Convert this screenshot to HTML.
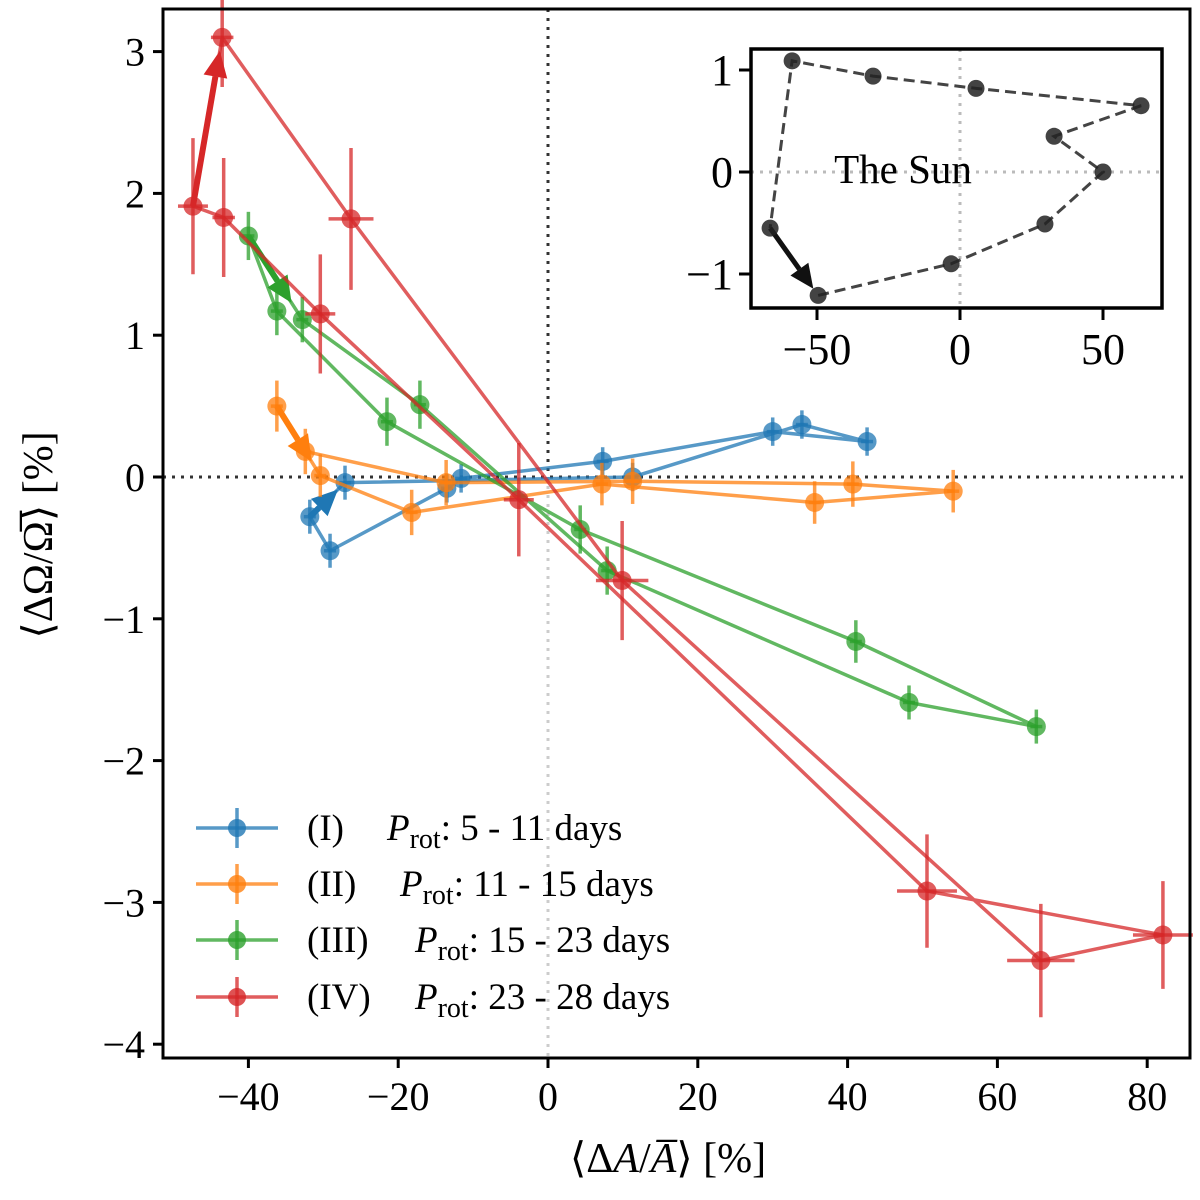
<!DOCTYPE html>
<html><head><meta charset="utf-8"><style>
html,body{margin:0;padding:0;background:#fff;}
svg text{font-family:"Liberation Serif",serif;fill:#000;}
</style></head><body>
<svg id="chart" width="1200" height="1195" xmlns="http://www.w3.org/2000/svg"></svg>
<script>
// ---- main chart data ----
const xTicks = [-40,-20,0,20,40,60,80];
const yTicks = [3,2,1,0,-1,-2,-3,-4];
const seriesNames = ["(I)","(II)","(III)","(IV)"];
const seriesRanges = ["5 - 11 days","11 - 15 days","15 - 23 days","23 - 28 days"];
// series I (blue) in path order (cyclic)
const s1x = [-31.8,-27.1,11.3,33.9,42.6,30.0,7.3,-11.6,-13.5,-29.1];
const s1y = [-0.28,-0.04,0.00,0.37,0.25,0.32,0.11,-0.01,-0.08,-0.52];
const s1xe = [0.8,0.8,0.8,0.8,0.8,0.8,0.8,0.8,0.8,0.8];
const s1ye = [0.12,0.12,0.1,0.1,0.1,0.1,0.1,0.1,0.1,0.12];
// series II (orange)
const s2x = [-36.2,-30.4,-18.2,7.2,35.6,54.1,40.7,11.3,-13.6,-32.4];
const s2y = [0.50,0.01,-0.25,-0.05,-0.18,-0.10,-0.05,-0.03,-0.04,0.18];
const s2xe = [0.8,0.8,0.8,0.8,0.8,0.8,0.8,0.8,0.8,0.8];
const s2ye = [0.18,0.15,0.16,0.15,0.15,0.15,0.16,0.16,0.16,0.16];
// series III (green)
const s3x = [-40.0,-32.8,-17.1,7.9,48.2,65.2,41.1,4.3,-21.5,-36.2];
const s3y = [1.70,1.11,0.51,-0.66,-1.59,-1.76,-1.16,-0.37,0.39,1.17];
const s3xe = [0.8,0.8,0.8,0.8,0.8,0.8,0.8,0.8,0.8,0.8];
const s3ye = [0.17,0.16,0.17,0.17,0.12,0.12,0.15,0.17,0.17,0.17];
// series IV (red)
const s4x = [-47.4,-43.5,-26.3,9.9,65.8,82.1,50.6,-3.9,-30.4,-43.3];
const s4y = [1.91,3.10,1.82,-0.73,-3.41,-3.23,-2.92,-0.16,1.15,1.83];
const s4xe = [2.0,1.5,3.0,3.5,4.5,4.0,4.0,2.0,2.0,1.5];
const s4ye = [0.48,0.35,0.50,0.42,0.40,0.38,0.40,0.40,0.42,0.42];
// ---- inset (Sun) data ----
const sunX = [-66.4,-49.6,-3.1,29.7,50.0,32.9,63.3,5.6,-30.4,-58.7];
const sunY = [-0.55,-1.21,-0.90,-0.51,0.00,0.35,0.65,0.82,0.94,1.09];
const insetXTicks = [-50,0,50];
const insetYTicks = [1,0,-1];

const colors = ["#1f77b4","#ff7f0e","#2ca02c","#d62728"];
const NS = "http://www.w3.org/2000/svg";
const svg = document.getElementById('chart');
function mk(tag, attrs, parent){
  const e = document.createElementNS(NS, tag);
  for (const k in attrs) e.setAttribute(k, attrs[k]);
  (parent||svg).appendChild(e);
  return e;
}
const L=163, R=1190, T=9, B=1058;
const X = v => 548 + v*7.49;
const Y = v => 477 - v*141.8;

const grid = mk('g',{});


mk('line',{x1:L,x2:R,y1:Y(0),y2:Y(0),stroke:'#333',"stroke-width":3,"stroke-dasharray":"3 6"},grid);
mk('line',{x1:X(0),x2:X(0),y1:T,y2:Y(0),stroke:'#333',"stroke-width":3,"stroke-dasharray":"3 6"},grid);
mk('line',{x1:X(0),x2:X(0),y1:Y(0),y2:B,stroke:'#ccc',"stroke-width":3,"stroke-dasharray":"3 6"},grid);

const sx=[s1x,s2x,s3x,s4x], sy=[s1y,s2y,s3y,s4y], sxe=[s1xe,s2xe,s3xe,s4xe], sye=[s1ye,s2ye,s3ye,s4ye];
function arrow(g, x1,y1,x2,y2,color,w,hl,hw){
  const dx=x2-x1, dy=y2-y1, len=Math.hypot(dx,dy), ux=dx/len, uy=dy/len;
  const bx=x2-ux*hl, by=y2-uy*hl;
  mk('line',{x1:x1,y1:y1,x2:bx,y2:by,stroke:color,"stroke-width":w},g);
  mk('polygon',{points:`${x2},${y2} ${bx-uy*hw},${by+ux*hw} ${bx+uy*hw},${by-ux*hw}`,fill:color},g);
}
for(let s=0;s<4;s++){
  const g = mk('g',{});
  
  
  const c=colors[s];
  const pts = sx[s].map((v,i)=>X(v)+','+Y(sy[s][i]));
  mk('polygon',{points:pts.join(' '),fill:'none',stroke:c,"stroke-width":3.5,"stroke-opacity":0.75,"stroke-linejoin":"round"},g);
  for(let i=0;i<sx[s].length;i++){
    const px=X(sx[s][i]), py=Y(sy[s][i]);
    mk('line',{x1:X(sx[s][i]-sxe[s][i]),x2:X(sx[s][i]+sxe[s][i]),y1:py,y2:py,stroke:c,"stroke-width":3.5,"stroke-opacity":0.75},g);
    mk('line',{x1:px,x2:px,y1:Y(sy[s][i]-sye[s][i]),y2:Y(sy[s][i]+sye[s][i]),stroke:c,"stroke-width":3.5,"stroke-opacity":0.75},g);
    const m=mk('circle',{cx:px,cy:py,r:9.5,fill:c,"fill-opacity":0.75},g);
    
    
  }
  const x1=X(sx[s][0]), y1=Y(sy[s][0]), x2=X(sx[s][1]), y2=Y(sy[s][1]);
  const f = s===3?0.92:0.8;
  arrow(g,x1,y1,x1+(x2-x1)*f,y1+(y2-y1)*f,c,6,26,12);
}
const fr=mk('rect',{x:L,y:T,width:R-L,height:B-T,fill:'none',stroke:'#000',"stroke-width":3});


xTicks.forEach(v=>{
  mk('line',{x1:X(v),x2:X(v),y1:B,y2:B+10,stroke:'#000',"stroke-width":3});
  const t=mk('text',{x:X(v),y:B+52,"font-size":40,"text-anchor":"middle"});
  t.textContent = v<0?'\u2212'+(-v):String(v);
  
  
});
yTicks.forEach(v=>{
  mk('line',{x1:L-10,x2:L,y1:Y(v),y2:Y(v),stroke:'#000',"stroke-width":3});
  const t=mk('text',{x:L-18,y:Y(v)+14,"font-size":40,"text-anchor":"end"});
  t.textContent = v<0?'\u2212'+(-v):String(v);
  
  
});
const xt=mk('text',{x:668,y:1172,"font-size":42,"text-anchor":"middle"});
xt.innerHTML='\u27E8\u0394<tspan font-style="italic">A</tspan>/<tspan font-style="italic">A\u0305</tspan>\u27E9 [%]';


const yt=mk('text',{x:0,y:0,"font-size":42,"text-anchor":"middle",transform:'translate(52,535) rotate(-90)'});
yt.textContent='\u27E8\u0394\u03A9/\u03A9\u0305\u27E9 [%]';


const lg=mk('g',{});


const legY=[828,884,940,997];
const legLabX=[387,400,415,415];
for(let s=0;s<4;s++){
  const e=mk('g',{},lg);
  
  
  const c=colors[s], y=legY[s];
  mk('line',{x1:196,x2:278,y1:y,y2:y,stroke:c,"stroke-width":3.5,"stroke-opacity":0.75},e);
  mk('line',{x1:237,x2:237,y1:y-20,y2:y+20,stroke:c,"stroke-width":3.5,"stroke-opacity":0.75},e);
  mk('circle',{cx:237,cy:y,r:9,fill:c,"fill-opacity":0.8},e);
  const t1=mk('text',{x:307,y:y+12,"font-size":37},e); t1.textContent=seriesNames[s];
  const t2=mk('text',{x:legLabX[s],y:y+12,"font-size":37},e);
  t2.innerHTML='<tspan font-style="italic">P</tspan><tspan font-size="28" dy="8">rot</tspan><tspan dy="-8">: '+seriesRanges[s]+'</tspan>';
}
const iL=751,iR=1162,iT=49,iB=308;
const IX=v=>960+v*2.86, IY=v=>172-v*102;
const ig=mk('g',{});


mk('rect',{x:iL,y:iT,width:iR-iL,height:iB-iT,fill:'#fff',stroke:'none'},ig);
mk('line',{x1:iL,x2:iR,y1:IY(0),y2:IY(0),stroke:'#bbb',"stroke-width":3,"stroke-dasharray":"3 6"},ig);
mk('line',{x1:IX(0),x2:IX(0),y1:iT,y2:iB,stroke:'#bbb',"stroke-width":3,"stroke-dasharray":"3 6"},ig);
const sun=mk('text',{x:903,y:183,"font-size":41,"text-anchor":"middle"},ig);
sun.textContent='The Sun';


const sp=sunX.slice(1).map((v,i)=>IX(v)+','+IY(sunY[i+1]));
sp.push(IX(sunX[0])+','+IY(sunY[0]));
mk('polyline',{points:sp.join(' '),fill:'none',stroke:'#444',"stroke-width":3,"stroke-dasharray":"11 6"},ig);
arrow(ig,IX(sunX[0]),IY(sunY[0]),IX(sunX[0])+(IX(sunX[1])-IX(sunX[0]))*0.9,IY(sunY[0])+(IY(sunY[1])-IY(sunY[0]))*0.9,'#111',5,24,11);
for(let i=0;i<sunX.length;i++){
  const m=mk('circle',{cx:IX(sunX[i]),cy:IY(sunY[i]),r:8.5,fill:'#222',"fill-opacity":0.85},ig);
  
  
}
mk('rect',{x:iL,y:iT,width:iR-iL,height:iB-iT,fill:'none',stroke:'#000',"stroke-width":3.5},ig);
insetXTicks.forEach(v=>{
  mk('line',{x1:IX(v),x2:IX(v),y1:iB,y2:iB+12,stroke:'#000',"stroke-width":3},ig);
  const t=mk('text',{x:IX(v),y:iB+56,"font-size":44,"text-anchor":"middle"},ig);
  t.textContent=v<0?'\u2212'+(-v):String(v);
});
insetYTicks.forEach(v=>{
  mk('line',{x1:iL-12,x2:iL,y1:IY(v),y2:IY(v),stroke:'#000',"stroke-width":3},ig);
  const t=mk('text',{x:iL-18,y:IY(v)+15,"font-size":44,"text-anchor":"end"},ig);
  t.textContent=v<0?'\u2212'+(-v):String(v);
});
</script>
</body></html>
